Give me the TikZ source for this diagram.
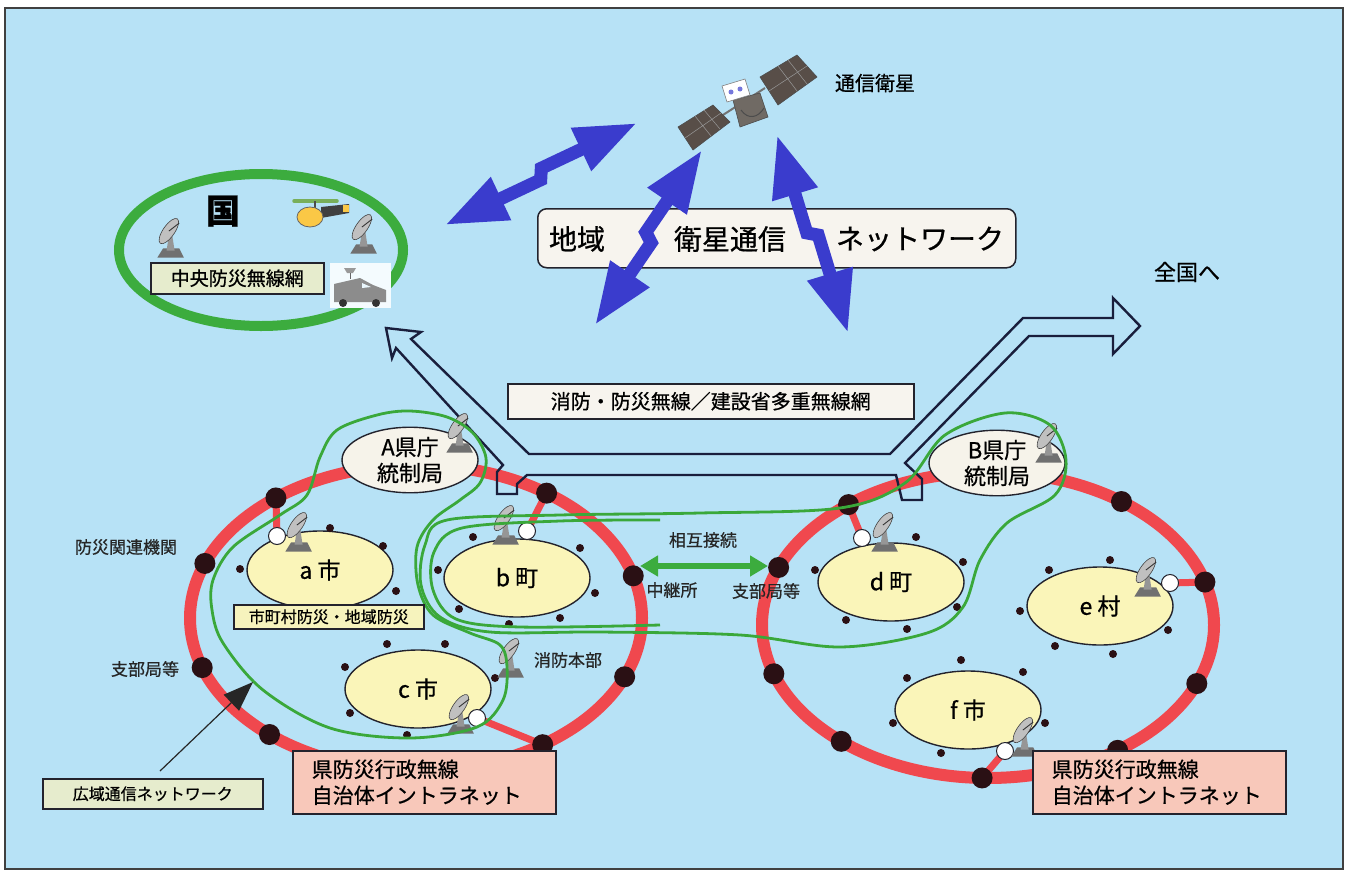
\documentclass[tikz,border=0pt]{standalone}
\usepackage{fontspec}
\setmainfont{Noto Sans CJK JP}[FakeBold=0.7]
\usetikzlibrary{arrows.meta,calc,shapes.geometric}

\definecolor{skybg}{RGB}{183,226,246}
\definecolor{ringred}{RGB}{240,72,78}
\definecolor{loopgreen}{RGB}{58,168,58}
\definecolor{kunigreen}{RGB}{60,172,62}
\definecolor{satblue}{RGB}{58,60,205}
\definecolor{dotdark}{RGB}{42,16,20}
\definecolor{townfill}{RGB}{250,245,185}
\definecolor{hqfill}{RGB}{246,243,234}
\definecolor{pinkfill}{RGB}{248,200,186}
\definecolor{olivefill}{RGB}{230,236,205}
\definecolor{creamfill}{RGB}{247,244,238}
\definecolor{outline}{RGB}{35,35,45}
\definecolor{pipeline}{RGB}{25,30,60}
\definecolor{dishgray}{RGB}{150,150,150}
\definecolor{panelbrown}{RGB}{88,78,72}
\definecolor{rotorgreen}{RGB}{120,175,90}
\definecolor{heliyellow}{RGB}{250,200,70}
\definecolor{satbody}{RGB}{112,106,100}

\newcommand\fsz[2]{\fontsize{#1}{#2}\selectfont}

\tikzset{
  ring/.style={ellipse, draw=ringred, line width=12pt, inner sep=0pt},
  spur/.style={draw=ringred, line width=7pt},
  bigdot/.style={circle, fill=dotdark, minimum size=21pt, inner sep=0pt},
  smalldot/.style={circle, fill=dotdark, minimum size=8pt, inner sep=0pt},
  relay/.style={circle, fill=white, draw=outline, line width=1pt, minimum size=17pt, inner sep=0pt},
  town/.style={ellipse, draw=outline, line width=1.4pt, fill=townfill, minimum width=146pt, minimum height=78pt, inner sep=0pt, font=\fsz{23}{27}},
  hq/.style={ellipse, draw=outline, line width=1.4pt, fill=hqfill, minimum width=136pt, minimum height=60pt, inner sep=0pt, align=center, font=\fsz{22}{26}},
  tag/.style={draw=outline, line width=1.5pt, inner sep=0pt, anchor=north west},
  plain/.style={font=\fsz{17}{20}, text=black!85},
  bluearrow/.style={draw=satblue, line width=13pt, line join=miter,
    arrows={Triangle[length=62pt,width=44pt]-Triangle[length=62pt,width=44pt]}},
  linkarrow/.style={draw=kunigreen, line width=6pt,
    arrows={Triangle[length=18pt,width=20pt]-Triangle[length=18pt,width=20pt]}},
  loop/.style={draw=loopgreen, line width=2.8pt},
  pipe/.style={draw=pipeline, line width=2.4pt, line join=miter},
  dish/.pic={
    \begin{scope}[scale=1.15]
    \fill[dishgray!75!black] (-11,17) -- (12,17) -- (8,9) -- (-6,9) -- cycle;
    \fill[dishgray] (-3,11) -- (4,11) -- (2,-2) -- (-1,-2) -- cycle;
    \fill[dishgray!60!white, draw=dishgray!45!black, line width=0.6pt,
          rotate around={-35:(-1,-6)}] (-1,-6) ellipse (5 and 13);
    \draw[dishgray!35!black, line width=0.9pt] (-1,-6) -- (8,-13);
    \end{scope}
  }
}

\begin{document}
\begin{tikzpicture}[x=1pt,y=-1pt]
\useasboundingbox (0,0) rectangle (1348,870);
\fill[white] (0,0) rectangle (1348,870);
\fill[skybg] (5,8) rectangle (1343,869);
\draw[black!75, line width=1.6pt] (5,8) rectangle (1343,869);

% ---------- national centre ----------
\node[ellipse, draw=kunigreen, line width=10pt, minimum width=284pt, minimum height=152pt, inner sep=0pt] (kuni) at (261,250) {};
\node[font=\fsz{34}{38}\bfseries] (kunilbl) at (223,211) {国};
\pic at (170,238) {dish};
\pic at (363,234) {dish};
% helicopter
\draw[rotorgreen, line width=3.5pt, line cap=round] (294,201) -- (337,201);
\draw[black!70, line width=1.2pt] (315,201) -- (315,208);
\fill[black!75] (321,207) -- (349,204) -- (349,213) -- (321,218) -- cycle;
\fill[heliyellow] (343,205) rectangle (349,212);
\filldraw[fill=heliyellow, draw=black!60, line width=0.8pt] (310,217) ellipse (13 and 10);
% mobile unit
\fill[white!85!skybg] (330,263) rectangle (391,308);
\fill[black!45] (334,302) -- (334,284) -- (360,278) -- (373,285) -- (386,290) -- (386,302) -- cycle;
\fill[white!70!skybg] (362,283) -- (371,287) -- (362,288) -- cycle;
\fill[black!80] (343,303) circle (4);
\fill[black!80] (376,303) circle (4);
\fill[black!40] (344,268) -- (356,268) -- (353,273) -- (347,273) -- cycle;
\draw[black!60, line width=1pt] (350,273) -- (350,279);
\node[tag, fill=olivefill, minimum width=173pt, minimum height=31pt, font=\fsz{19}{22}] (chuo) at (150,262) {中央防災無線網};

% ---------- satellite network ----------
\coordinate (s1a) at (445,225);
\coordinate (s1b) at (637,123);
\draw[bluearrow] (s1a) -- (540.7,179.8) -- (541.3,168.2) -- (s1b);

\node[tag, fill=creamfill, rounded corners=9pt, minimum width=478pt, minimum height=59pt] (satbox) at (537,208) {};
\node[font=\fsz{28}{32}] (lblA) at (577,239) {地域};
\node[font=\fsz{28}{32}] (lblB) at (730,239) {衛星通信};
\node[font=\fsz{28}{32}] (lblC) at (920,239) {ネットワーク};

\coordinate (s2a) at (595,325);
\coordinate (s2b) at (702,150);
\draw[bluearrow] (s2a) -- (651.2,242.7) -- (645.8,232.3) -- (s2b);
\coordinate (s3a) at (848,333);
\coordinate (s3b) at (777,135);
\draw[bluearrow] (s3a) -- (818.2,235.1) -- (806.8,232.9) -- (s3b);

% satellite
\draw[black!55, line width=2pt] (712,122) -- (765,88);
\filldraw[fill=panelbrown, draw=black!70, line width=0.6pt] (678,127) -- (713,105) -- (730,122) -- (693,150) -- cycle;
\draw[black!40, line width=0.5pt] (695,116) -- (711,136) (685,138) -- (721,113) (704,110) -- (720,129);
\filldraw[fill=panelbrown, draw=black!70, line width=0.6pt] (760,77) -- (797,55) -- (817,77) -- (778,105) -- cycle;
\draw[black!40, line width=0.5pt] (778,66) -- (797,91) (769,91) -- (807,66) (788,60) -- (807,84);
\filldraw[fill=satbody, draw=black!70, line width=0.6pt] (733,100) -- (760,93) -- (768,117) -- (740,127) -- cycle;
\filldraw[fill=white, draw=black!50, line width=0.6pt] (722,86) -- (745,79) -- (750,95) -- (727,102) -- cycle;
\fill[satblue!70] (731,92) circle (2.5);
\fill[satblue!70] (740,89) circle (2.5);
\draw[black!70, line width=1pt] (741,110) .. controls (748,120) and (758,118) .. (764,108);
\node[font=\fsz{20}{24}] (satlbl) at (875,83) {通信衛星};
\node[font=\fsz{22}{26}] (zenkoku) at (1187,272) {全国へ};

\node[tag, fill=creamfill, minimum width=406pt, minimum height=35pt, font=\fsz{20}{24}] (shobo) at (507,383) {消防・防災無線／建設省多重無線網};

% ---------- prefecture rings ----------
\node[ring, minimum width=452pt, minimum height=306pt] (ringL) at (416,618) {};
\node[ring, minimum width=452pt, minimum height=306pt] (ringR) at (988,625) {};

\foreach \a [count=\i] in {231.7,-54.7,200.9,-16,161.1,22.6,130.4,55.9}
  \path (ringL.center) ++(\a:226 and 153) coordinate (pL\i);
\foreach \a [count=\i] in {231.9,-53.8,202.1,-16.3,161.4,22.5,130.5,91.5,55}
  \path (ringR.center) ++(\a:226 and 153) coordinate (pR\i);

% relay points of the towns
\coordinate (ra) at (277,536);
\coordinate (rb) at (527,531);
\coordinate (rc) at (477,718);
\coordinate (rd) at (862,538);
\coordinate (re) at (1170,583);
\coordinate (rf) at (1005,751);
\draw[spur] (ra) -- (pL1);
\draw[spur] (rb) -- (pL2);
\draw[spur] (rc) -- (pL8);
\draw[spur] (rd) -- (pR1);
\draw[spur] (re) -- (pR4);
\draw[spur] (rf) -- (pR8);

\foreach \i in {1,...,8} \node[bigdot] (dL\i) at (pL\i) {};
\foreach \i in {1,...,9} \node[bigdot] (dR\i) at (pR\i) {};

% towns
\node[town] (ta) at (320,570) {a 市};
\node[town] (tb) at (517,578) {b 町};
\node[town] (tc) at (418,689) {c 市};
\node[town] (td) at (891,582) {d 町};
\node[town] (te) at (1100,606) {e 村};
\node[town] (tf) at (968,710) {f 市};

\foreach \x/\y [count=\i] in {330/528,383/546,240/569,396/591}
  \node[smalldot] (sa\i) at (\x,\y) {};
\foreach \x/\y [count=\i] in {473/537,580/548,438/570,595/593,459/609,509/624,560/618}
  \node[smalldot] (sb\i) at (\x,\y) {};
\foreach \x/\y [count=\i] in {387/644,445/644,345/667,495/678,350/713,407/735}
  \node[smalldot] (sc\i) at (\x,\y) {};
\foreach \x/\y [count=\i] in {916/537,815/570,963/562,957/607,846/620,907/629}
  \node[smalldot] (sd\i) at (\x,\y) {};
\foreach \x/\y [count=\i] in {1049/570,1110/560,1020/611,1168/630,1055/646,1113/654}
  \node[smalldot] (se\i) at (\x,\y) {};
\foreach \x/\y [count=\i] in {961/660,1023/672,907/678,1045/723,893/723,941/753}
  \node[smalldot] (sf\i) at (\x,\y) {};

\node[relay] (wa) at (ra) {};
\node[relay] (wb) at (rb) {};
\node[relay] (wc) at (rc) {};
\node[relay] (wd) at (rd) {};
\node[relay] (we) at (re) {};
\node[relay] (wf) at (rf) {};

% prefectural headquarters
\node[hq] (hqA) at (410,460) {A県庁\\統制局};
\node[hq] (hqB) at (997,463) {B県庁\\統制局};

% ---------- trunk radio route (hollow arrows) ----------
\draw[pipe] (386,328) -- (421,332) -- (411,339) -- (529,454) -- (890,454)
  -- (1023,318) -- (1113,318) -- (1113,298) -- (1140,326) -- (1113,354)
  -- (1113,336) -- (1029,336) -- (905,463) -- (922,479) -- (922,500)
  -- (902,500) -- (896,475) -- (527,475) -- (517,484) -- (517,494)
  -- (497,494) -- (497,472) -- (503,465) -- (396,348) -- (392,358) -- cycle;

% ---------- antennas ----------
\pic at (459,433) {dish};
\pic at (1048,443) {dish};
\pic at (298,532) {dish};
\pic at (505,525) {dish};
\pic at (510,658) {dish};
\pic at (460,714) {dish};
\pic at (884,532) {dish};
\pic at (1147,577) {dish};
\pic at (1024,737) {dish};

% ---------- municipal loops ----------
\draw[loop] plot[smooth cycle, tension=0.55] coordinates {
  (377,415) (337,430) (320,457) (307,495) (280,515) (233,547) (213,580)
  (212,610) (223,643) (263,690) (330,728) (410,738) (477,727) (503,700)
  (507,667) (500,645) (470,633) (433,615) (418,585) (417,547) (433,520)
  (460,500) (480,483) (486,458) (473,433) (447,417) (410,411)};
\draw[loop] plot[smooth cycle, tension=0.55] coordinates {
  (447,520) (560,515) (700,513) (840,508) (905,483) (945,435) (1005,413)
  (1050,425) (1066,460) (1055,495) (1007,523) (980,560) (963,607)
  (927,633) (840,647) (740,635) (600,632) (490,632) (440,617) (421,585)
  (425,545)};
\draw[loop] plot[smooth, tension=0.55] coordinates {
  (660,520) (560,521) (462,528) (434,552) (433,590) (456,619) (520,627) (660,625)};

% ---------- labels ----------
\node[tag, fill=townfill!80!olivefill, minimum width=190pt, minimum height=24pt, font=\fsz{16}{19}] (shichoson) at (233,604) {市町村防災・地域防災};

\node[plain] (kanren) at (126,547) {防災関連機関};
\node[plain] (shibuL) at (145,669) {支部局等};
\node[plain] (shobohq) at (568,660) {消防本部};
\node[plain] (sogo) at (703,540) {相互接続};
\node[plain] (chukei) at (672,590) {中継所};
\node[plain] (shibuR) at (766,591) {支部局等};
\coordinate (lk1) at (640,566);
\coordinate (lk2) at (768,566);
\draw[linkarrow] (lk1) -- (lk2);

\node[tag, fill=pinkfill, minimum height=63pt, text width=225pt, inner xsep=19pt, align=left, font=\fsz{21}{26}] (pinkL) at (292,750) {県防災行政無線\\自治体イントラネット};
\node[tag, fill=pinkfill, minimum height=63pt, text width=215pt, inner xsep=19pt, align=left, font=\fsz{21}{26}] (pinkR) at (1032,750) {県防災行政無線\\自治体イントラネット};

\node[tag, fill=olivefill, minimum width=220pt, minimum height=30pt, font=\fsz{16}{19}] (kouiki) at (42,778) {広域通信ネットワーク};
\coordinate (kaFoot) at (160,771);
\coordinate (kaTip) at (253,682);
\draw[black!85, line width=1.2pt, -{Triangle[length=30pt,width=22pt]}] (kaFoot) -- (kaTip);
\end{tikzpicture}
\end{document}
